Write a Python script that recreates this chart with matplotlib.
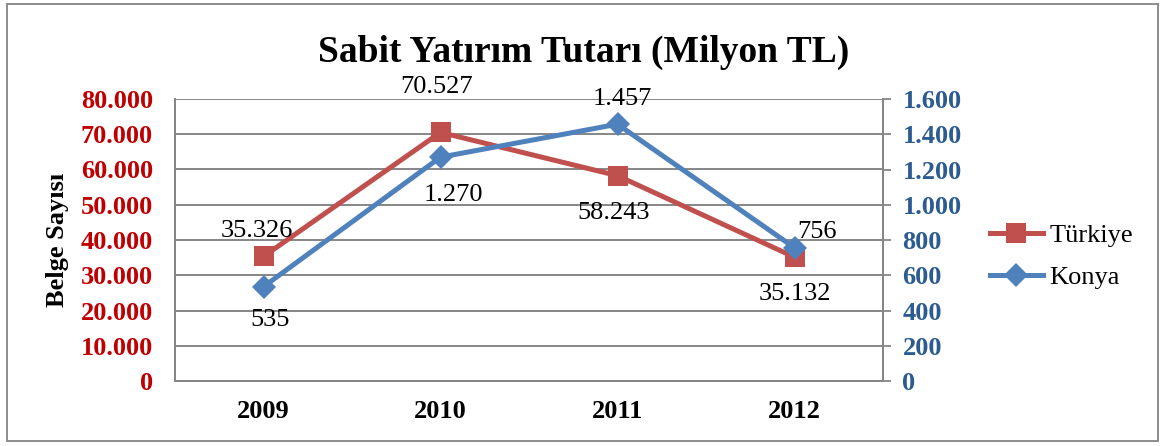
import matplotlib
matplotlib.use("Agg")
import matplotlib.pyplot as plt
from matplotlib.patches import Rectangle

plt.rcParams['font.family'] = ['Liberation Serif', 'DejaVu Serif']

# data
years = ['2009', '2010', '2011', '2012']
turkiye = [35326, 70527, 58243, 35132]
konya = [535, 1270, 1457, 756]
left_ticks = [0, 10000, 20000, 30000, 40000, 50000, 60000, 70000, 80000]
right_ticks = [0, 200, 400, 600, 800, 1000, 1200, 1400, 1600]

# label offsets in pixels (dx, dy), placed like the original
tr_off = [(-7, 25), (-4, 45), (-4, -37), (0, -37)]
ko_off = [(7, -33), (13, -38), (5, 25), (22, 16)]

RED = '#C0504D'
BLUE = '#4F81BD'
RED_TXT = '#C00000'
BLUE_TXT = '#2B5B91'
GRID = '#868686'


def fmt(v):
    return '{:,}'.format(v).replace(',', '.')


fig = plt.figure(figsize=(11.63, 4.46), dpi=100)
ax = fig.add_axes([175/1163, 1-381/446, (883-175)/1163, (381-99)/446])
ax2 = ax.twinx()

x = list(range(len(years)))

l1, = ax.plot(x, turkiye, color=RED, lw=3.6, marker='s', markersize=14,
              markeredgewidth=0, zorder=3, label='Türkiye')
l2, = ax2.plot(x, konya, color=BLUE, lw=3.6, marker='D', markersize=12,
               markeredgewidth=0, zorder=3, label='Konya')

ax.set_xlim(-0.5, 3.5)
ax.set_ylim(0, 80000)
ax2.set_ylim(0, 1600)

ax.set_yticks(left_ticks)
ax.set_yticklabels([fmt(v) for v in left_ticks])
ax2.set_yticks(right_ticks)
ax2.set_yticklabels([fmt(v) for v in right_ticks])
ax.set_xticks(x)
ax.set_xticklabels(years)

ax.tick_params(axis='y', length=0, pad=16, labelsize=19, labelcolor=RED_TXT)
ax2.tick_params(axis='y', length=6, width=1.3, color=GRID, pad=8,
                labelsize=19, labelcolor=BLUE_TXT)
ax.tick_params(axis='x', length=0, pad=14, labelsize=19)
for lab in ax.get_yticklabels() + ax2.get_yticklabels() + ax.get_xticklabels():
    lab.set_fontweight('bold')

ax.grid(axis='y', color=GRID, lw=1.4)
ax.set_axisbelow(True)
for a in (ax, ax2):
    for s in a.spines.values():
        s.set_color(GRID)
        s.set_linewidth(1.4)
    a.spines['top'].set_visible(False)

ax.set_ylabel('Belge Sayısı', fontsize=19, fontweight='bold', labelpad=8)

for i in x:
    ax.annotate(fmt(turkiye[i]), (i, turkiye[i]), xytext=tr_off[i],
                textcoords='offset pixels', ha='center', va='center',
                fontsize=19, zorder=5)
    ax2.annotate(fmt(konya[i]), (i, konya[i]), xytext=ko_off[i],
                 textcoords='offset pixels', ha='center', va='center',
                 fontsize=19, zorder=5)

fig.text(584/1163, 1-52/446, 'Sabit Yatırım Tutarı (Milyon TL)', ha='center',
         va='center', fontsize=27, fontweight='bold')

fig.legend([l1, l2], ['Türkiye', 'Konya'], loc='center left',
           bbox_to_anchor=(990/1163, 1-256.5/446), frameon=False,
           fontsize=19, handlelength=2.0, handletextpad=0.25,
           labelspacing=0.7, borderpad=0, borderaxespad=0)

fig.patches.append(Rectangle((7/1163, 1-441/446), (1158-7)/1163, (441-4)/446,
                             transform=fig.transFigure, fill=False,
                             edgecolor='#8C8C8C', lw=1.4))

fig.savefig('out.png', dpi=100)
